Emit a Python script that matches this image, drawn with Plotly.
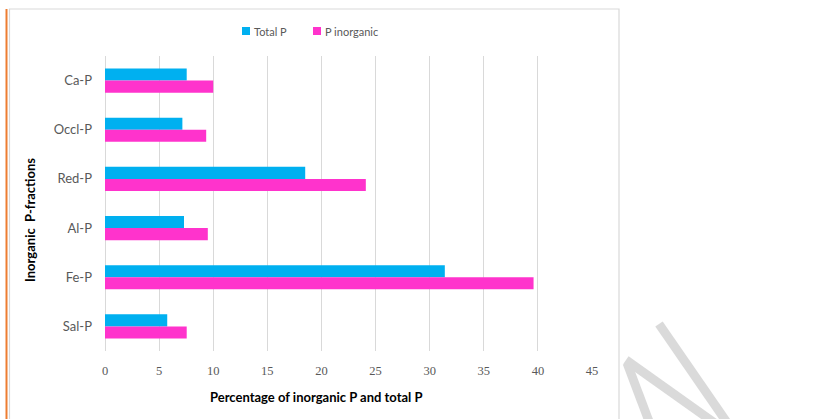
import plotly.graph_objects as go

# ---- data ----
categories = ["Ca-P", "Occl-P", "Red-P", "Al-P", "Fe-P", "Sal-P"]
total_p = [7.55, 7.15, 18.5, 7.3, 31.4, 5.75]
p_inorganic = [10.0, 9.35, 24.1, 9.5, 39.6, 7.55]
series_names = ["Total P", "P inorganic"]
series_colors = ["#00B0F0", "#FF33CC"]
x_ticks = [0, 5, 10, 15, 20, 25, 30, 35, 40, 45]

W, H = 816, 419
L, R, T, B = 105, 592, 56, 351  # plot area in pixels


def px(x):
    return (x - L) / (R - L)


def py(y):
    return (B - y) / (B - T)


fig = go.Figure()
for name, vals, col in zip(series_names, [total_p, p_inorganic], series_colors):
    fig.add_trace(go.Bar(
        y=categories, x=vals, name=name, orientation="h",
        marker=dict(color=col, line=dict(width=0)),
        showlegend=False,
    ))

shapes = []
annotations = []

# chart border (gray) and orange page edge
shapes.append(dict(type="rect", xref="paper", yref="paper",
                   x0=px(9.5), x1=px(619), y0=py(9), y1=py(440),
                   line=dict(color="#D9D9D9", width=1.2), fillcolor="rgba(0,0,0,0)", layer="below"))
shapes.append(dict(type="line", xref="paper", yref="paper",
                   x0=px(6.5), x1=px(6.5), y0=py(9), y1=py(440),
                   line=dict(color="#ED7D31", width=2)))

# watermark strokes
wm = "#DADADA"
for (xa, ya, xb, yb) in [(659, 324, 728, 424), (626, 360, 716, 424), (627, 363, 650, 424)]:
    shapes.append(dict(type="line", xref="paper", yref="paper",
                       x0=px(xa), y0=py(ya), x1=px(xb), y1=py(yb),
                       line=dict(color=wm, width=9)))

# manual legend
legend_items = [(242, 252), (313, 323)]
for (sx, tx), name, col in zip(legend_items, series_names, series_colors):
    shapes.append(dict(type="rect", xref="paper", yref="paper",
                       x0=px(sx), x1=px(sx + 8), y0=py(27), y1=py(35),
                       line=dict(width=0), fillcolor=col))
    annotations.append(dict(xref="paper", yref="paper", x=px(tx), y=py(31),
                            xanchor="left", yanchor="middle", showarrow=False,
                            text=name, font=dict(family="Lato", size=11, color="#595959")))

# axis titles
annotations.append(dict(xref="paper", yref="paper", x=px(316), y=py(397),
                        xanchor="center", yanchor="middle", showarrow=False,
                        text="Percentage of inorganic P and total P",
                        font=dict(family="Lato", size=13, color="#000000", weight="bold")))
annotations.append(dict(xref="paper", yref="paper", x=px(30), y=py(220),
                        xanchor="center", yanchor="middle", showarrow=False, textangle=-90,
                        text="Inorganic  P-fractions",
                        font=dict(family="Lato", size=13, color="#000000", weight="bold")))

fig.update_layout(
    width=W, height=H,
    margin=dict(l=L, r=W - R, t=T, b=H - B, pad=0),
    paper_bgcolor="white", plot_bgcolor="white",
    barmode="group", bargap=0.51, bargroupgap=0,
    shapes=shapes, annotations=annotations,
    showlegend=False,
    xaxis=dict(range=[0, 45], tickvals=x_ticks, showgrid=True, gridcolor="#D9D9D9",
               gridwidth=1, zeroline=True, zerolinecolor="#D9D9D9", zerolinewidth=1,
               showline=False, ticks="", ticklabelstandoff=10,
               tickfont=dict(family="Liberation Serif", size=12.5, color="#595959")),
    yaxis=dict(autorange="reversed", showgrid=False, zeroline=False, showline=False,
               ticks="", ticklabelstandoff=12,
               tickfont=dict(family="Lato", size=13, color="#595959")),
)

fig.write_html(
    "out.html",
    config={"displayModeBar": False},
    post_script="document.body.style.margin='0';document.body.style.overflow='hidden';",
)
